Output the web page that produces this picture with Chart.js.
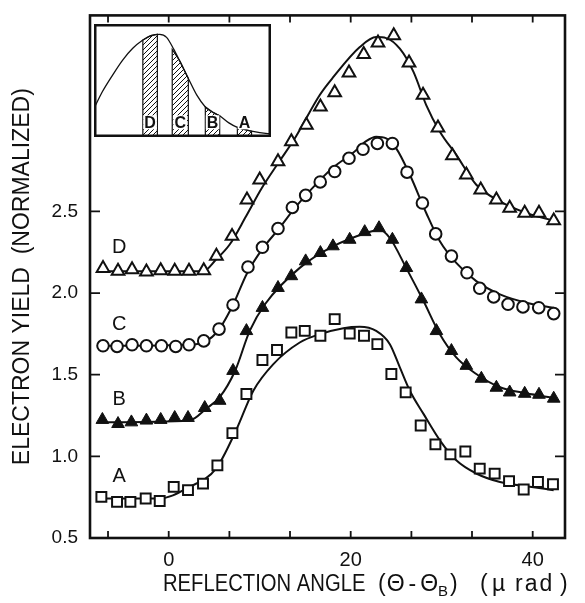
<!DOCTYPE html>
<html>
<head>
<meta charset="utf-8">
<script src="https://cdn.jsdelivr.net/npm/chart.js@4.4.1/dist/chart.umd.min.js"></script>
<style>
  html, body { margin: 0; padding: 0; background: #fff; }
  #wrap { position: relative; width: 585px; height: 603px; }
  #mainChart { position: absolute; left: 0; top: 0; }
  #insetChart { position: absolute; left: 94px; top: 24px; }
</style>
</head>
<body>
<div id="wrap">
  <canvas id="mainChart" width="585" height="603"></canvas>
  <canvas id="insetChart" width="177" height="113"></canvas>
</div>
<script>
// measured points, x = reflection angle (µrad), y = normalized electron yield
const xA = [-7.40, -5.68, -4.21, -2.53, -0.99, 0.55, 2.12, 3.77, 5.35, 7.00, 8.54, 10.30, 11.90, 13.48, 14.95, 16.67,
            18.24, 19.89, 21.46, 22.93, 24.47, 26.04, 27.69, 29.31, 30.96, 32.60, 34.18, 35.82, 37.40, 39.01, 40.58, 42.23];
const yA = [0.752, 0.721, 0.721, 0.742, 0.727, 0.813, 0.793, 0.833, 0.945, 1.142, 1.382, 1.590, 1.651, 1.758, 1.768, 1.738,
            1.840, 1.752, 1.738, 1.687, 1.504, 1.392, 1.189, 1.073, 1.012, 1.030, 0.925, 0.894, 0.848, 0.797, 0.843, 0.829];

const xB = [-7.29, -5.57, -4.10, -2.45, -0.88, 0.66, 2.12, 3.96, 5.60, 7.07, 8.54, 10.30, 12.01, 13.48, 15.05, 16.67,
            18.05, 19.89, 21.54, 23.11, 24.58, 26.12, 27.77, 29.42, 31.07, 32.71, 34.36, 36.01, 37.47, 39.12, 40.69, 42.31];
const yB = [1.224, 1.199, 1.209, 1.220, 1.224, 1.236, 1.236, 1.297, 1.341, 1.524, 1.768, 1.910, 2.032, 2.104, 2.195, 2.246,
            2.287, 2.327, 2.374, 2.398, 2.327, 2.154, 1.962, 1.768, 1.646, 1.555, 1.476, 1.421, 1.392, 1.384, 1.378, 1.354];

const xC = [-7.22, -5.68, -4.03, -2.45, -0.80, 0.77, 2.23, 3.85, 5.53, 7.07, 8.71, 10.30, 12.01, 13.59, 15.05, 16.65,
            18.24, 19.81, 21.35, 22.93, 24.58, 26.19, 27.88, 29.34, 31.07, 32.78, 34.18, 35.71, 37.29, 38.93, 40.66, 42.31];
const yC = [1.677, 1.673, 1.683, 1.677, 1.677, 1.673, 1.683, 1.707, 1.779, 1.927, 2.159, 2.280, 2.395, 2.524, 2.598, 2.680,
            2.744, 2.825, 2.880, 2.916, 2.916, 2.740, 2.551, 2.362, 2.226, 2.124, 2.029, 1.976, 1.931, 1.915, 1.910, 1.874];

const xD = [-7.22, -5.57, -4.03, -2.45, -0.88, 0.66, 2.23, 3.85, 5.24, 6.96, 8.60, 10.00, 12.01, 13.48, 15.13, 16.67,
            18.24, 19.81, 21.43, 23.00, 24.73, 26.41, 27.95, 29.59, 31.18, 32.71, 34.29, 36.01, 37.47, 39.12, 40.69, 42.31];
const yD = [2.151, 2.134, 2.144, 2.130, 2.138, 2.134, 2.134, 2.138, 2.226, 2.348, 2.571, 2.693, 2.805, 2.927, 3.029, 3.140,
            3.227, 3.348, 3.462, 3.532, 3.577, 3.410, 3.212, 3.012, 2.841, 2.724, 2.632, 2.571, 2.520, 2.490, 2.490, 2.443];

// fitted curves
const fitAx = [-7.4, -1.0, 2.3, 5.2, 7.4, 9.3, 11.5, 14.4, 16.6, 19.2, 21.0, 22.8, 24.3, 25.4, 26.5, 28.0, 29.8, 31.6, 33.8, 36.4, 39.3, 42.3];
const fitAy = [0.742, 0.742, 0.813, 0.925, 1.159, 1.402, 1.565, 1.697, 1.748, 1.785, 1.793, 1.768, 1.687, 1.545, 1.402, 1.260, 1.098, 0.976, 0.895, 0.843, 0.817, 0.793];
const fitBx = [-7.4, 2.3, 4.1, 5.6, 7.3, 8.9, 10.6, 14.4, 18.1, 21.7, 23.2, 24.3, 26.1, 28.0, 29.8, 31.6, 33.8, 36.4, 39.3, 42.3];
const fitBy = [1.209, 1.220, 1.291, 1.362, 1.524, 1.768, 1.933, 2.154, 2.287, 2.368, 2.388, 2.337, 2.154, 1.951, 1.748, 1.606, 1.504, 1.423, 1.386, 1.358];
const fitCx = [-7.6, 3.0, 5.3, 7.0, 8.6, 10.3, 12.2, 14.0, 16.6, 18.1, 20.3, 21.7, 22.8, 23.9, 25.0, 26.5, 28.3, 29.8, 31.6, 33.8, 36.4, 39.3, 42.3];
const fitCy = [1.677, 1.687, 1.760, 1.920, 2.120, 2.270, 2.400, 2.530, 2.690, 2.770, 2.860, 2.930, 2.957, 2.947, 2.886, 2.724, 2.490, 2.317, 2.185, 2.073, 1.992, 1.941, 1.910];
const fitDx = [-7.6, 3.8, 5.2, 6.7, 8.5, 10.2, 12.0, 13.9, 16.6, 18.1, 21.0, 22.8, 23.9, 25.4, 26.9, 28.3, 29.8, 31.6, 33.8, 36.4, 39.3, 42.3];
const fitDy = [2.134, 2.134, 2.205, 2.297, 2.470, 2.640, 2.793, 2.951, 3.213, 3.323, 3.506, 3.567, 3.561, 3.496, 3.354, 3.151, 2.988, 2.846, 2.663, 2.561, 2.490, 2.443];

const xTickVals = [-6.67, 0, 6.67, 13.33, 20, 26.67, 33.33, 40];
const xLabelVals = [0, 20, 40];
const yTickVals = [0.5, 1.0, 1.5, 2.0, 2.5];

// inset: angular distribution with the four hatched slices
const insetX = [0, 4.7, 10.5, 16.2, 21.9, 27.6, 32.4, 37.1, 41.0, 45.1, 48.6, 53.3, 58.1, 62.9, 67.6, 71.0, 76.2, 81.0, 89.0, 98.1, 100];
const insetY = [25.2, 40.0, 54.8, 68.1, 78.5, 85.8, 90.0, 90.9, 88.2, 77.5, 66.6, 51.8, 37.0, 26.6, 21.3, 18.8, 12.5, 8.5, 5.2, 3.0, 2.9];
const sliceNames = ['D', 'C', 'B', 'A'];
const sliceX = [[27.6, 31.7, 35.8], [44.2, 48.7, 53.3], [62.9, 67.0, 71.0], [81.0, 85.0, 89.0]];
const sliceTop = [[85.8, 89.3, 90.9], [77.5, 66.8, 51.8], [26.6, 22.2, 18.8], [8.5, 6.8, 5.2]];

const INK = '#111';
const FONT = '"Liberation Sans", Arial, sans-serif';
const pts = (xs, ys) => xs.map((x, i) => ({ x: x, y: ys[i] }));

const whiteBg = {
    id: 'whiteBg',
    beforeDraw(chart) {
        const ctx = chart.ctx;
        ctx.save();
        ctx.fillStyle = '#fff';
        ctx.fillRect(0, 0, chart.width, chart.height);
        ctx.restore();
    }
};

// boxed frame with inward ticks on all four sides
const frameTicks = {
    id: 'frameTicks',
    afterDatasetsDraw(chart) {
        const { ctx, chartArea: a, scales: { x, y } } = chart;
        ctx.save();
        ctx.strokeStyle = INK;
        ctx.lineWidth = 1.8;
        ctx.beginPath();
        xTickVals.forEach(v => {
            const px = x.getPixelForValue(v);
            ctx.moveTo(px, a.bottom); ctx.lineTo(px, a.bottom - 7);
            ctx.moveTo(px, a.top); ctx.lineTo(px, a.top + 7);
        });
        yTickVals.forEach(v => {
            const py = y.getPixelForValue(v);
            ctx.moveTo(a.left, py); ctx.lineTo(a.left + 10, py);
            ctx.moveTo(a.right, py); ctx.lineTo(a.right - 10, py);
        });
        ctx.stroke();
        ctx.lineWidth = 2.6;
        ctx.strokeRect(a.left, a.top, a.right - a.left, a.bottom - a.top);

        // curve letters
        ctx.fillStyle = INK;
        ctx.font = '20px ' + FONT;
        ctx.textAlign = 'center';
        ctx.textBaseline = 'middle';
        const letterY = { D: 2.28, C: 1.81, B: 1.35, A: 0.875 };
        Object.keys(letterY).forEach(k => {
            ctx.fillText(k, x.getPixelForValue(-5.45), y.getPixelForValue(letterY[k]));
        });
        ctx.restore();
    },
    afterDraw(chart) {
        // x title drawn by hand for the subscript B
        const ctx = chart.ctx;
        const base = 591;
        ctx.save();
        ctx.fillStyle = INK;
        ctx.textBaseline = 'alphabetic';
        ctx.textAlign = 'left';
        ctx.font = '23px ' + FONT;
        ctx.save();
        ctx.translate(163, base);
        ctx.scale(0.88, 1);
        ctx.fillText('REFLECTION ANGLE', 0, 0);
        ctx.restore();
        let cx = 378;
        const parts = ['(', 'Θ', '-', 'Θ'];
        const gaps = [1, 4, 4, 0];
        parts.forEach((p, i) => {
            ctx.fillText(p, cx, base);
            cx += ctx.measureText(p).width + gaps[i];
        });
        ctx.font = '15px ' + FONT;
        ctx.fillText('B', cx, base + 5);
        cx += ctx.measureText('B').width + 2;
        ctx.font = '23px ' + FONT;
        ctx.fillText(')', cx, base);
        ctx.fillText('(', 480, base);
        ctx.fillText('µ', 492, base);
        ctx.letterSpacing = '2px';
        ctx.fillText('rad', 515, base);
        ctx.letterSpacing = '0px';
        ctx.fillText(')', 560, base);
        ctx.restore();
    }
};

new Chart(document.getElementById('mainChart'), {
    type: 'scatter',
    data: {
        datasets: [
            { data: pts(fitAx, fitAy), showLine: true, borderColor: INK, borderWidth: 2, pointRadius: 0, cubicInterpolationMode: 'monotone', order: 2 },
            { data: pts(fitBx, fitBy), showLine: true, borderColor: INK, borderWidth: 2, pointRadius: 0, cubicInterpolationMode: 'monotone', order: 2 },
            { data: pts(fitCx, fitCy), showLine: true, borderColor: INK, borderWidth: 2, pointRadius: 0, cubicInterpolationMode: 'monotone', order: 2 },
            { data: pts(fitDx, fitDy), showLine: true, borderColor: INK, borderWidth: 2, pointRadius: 0, cubicInterpolationMode: 'monotone', order: 2 },
            { label: 'A', data: pts(xA, yA), pointStyle: 'rect', pointRadius: 7, borderWidth: 2, borderColor: INK, backgroundColor: '#fff', order: 1 },
            { label: 'B', data: pts(xB, yB), pointStyle: 'triangle', pointRadius: 7.3, borderWidth: 1, borderColor: INK, backgroundColor: INK, order: 1 },
            { label: 'C', data: pts(xC, yC), pointStyle: 'circle', pointRadius: 5.8, borderWidth: 2, borderColor: INK, backgroundColor: '#fff', order: 1 },
            { label: 'D', data: pts(xD, yD), pointStyle: 'triangle', pointRadius: 7.3, borderWidth: 2, borderColor: INK, backgroundColor: '#fff', order: 1 }
        ]
    },
    options: {
        responsive: false,
        devicePixelRatio: 1,
        animation: false,
        layout: { padding: { top: 13, right: 20, left: 0, bottom: 0 } },
        plugins: { legend: { display: false }, tooltip: { enabled: false } },
        scales: {
            x: {
                type: 'linear',
                min: -8.65,
                max: 43.55,
                grid: { display: false },
                border: { display: false },
                afterBuildTicks: s => { s.ticks = xTickVals.map(v => ({ value: v })); },
                afterFit: s => { s.height = 65; },
                ticks: {
                    autoSkip: false,
                    maxRotation: 0,
                    padding: 2,
                    color: INK,
                    font: { family: FONT, size: 20 },
                    callback: v => xLabelVals.includes(v) ? String(v) : ''
                }
            },
            y: {
                min: 0.5,
                max: 3.7,
                grid: { display: false },
                border: { display: false },
                afterBuildTicks: s => { s.ticks = yTickVals.map(v => ({ value: v })); },
                afterFit: s => { s.width = 90; },
                ticks: {
                    autoSkip: false,
                    padding: 4,
                    color: INK,
                    font: { family: FONT, size: 19 },
                    callback: v => v.toFixed(1)
                },
                title: {
                    display: true,
                    text: 'ELECTRON YIELD  (NORMALIZED)',
                    color: INK,
                    font: { family: FONT, size: 23 },
                    padding: { top: 9, bottom: 0 }
                }
            }
        }
    },
    plugins: [whiteBg, frameTicks]
});

// ---- inset ----
function hatchPattern() {
    const c = document.createElement('canvas');
    c.width = 5; c.height = 5;
    const g = c.getContext('2d');
    g.strokeStyle = INK;
    g.lineWidth = 1;
    g.beginPath();
    g.moveTo(0, 5); g.lineTo(5, 0);
    g.moveTo(-1, 1); g.lineTo(1, -1);
    g.moveTo(4, 6); g.lineTo(6, 4);
    g.stroke();
    return g.createPattern(c, 'repeat');
}

const hatch = hatchPattern();
const sliceSets = sliceX.map((xs, i) => ({
    data: [{ x: xs[0], y: 0 }].concat(pts(xs, sliceTop[i]), [{ x: xs[2], y: 0 }]),
    showLine: true,
    fill: 'origin',
    backgroundColor: hatch,
    borderColor: INK,
    borderWidth: 1.2,
    pointRadius: 0
}));

const insetDecor = {
    id: 'insetDecor',
    afterDatasetsDraw(chart) {
        const { ctx, scales: { x, y } } = chart;
        ctx.save();
        ctx.font = 'bold 16px ' + FONT;
        ctx.textAlign = 'center';
        ctx.textBaseline = 'middle';
        sliceNames.forEach((n, i) => {
            const px = x.getPixelForValue(sliceX[i][1]);
            const py = y.getPixelForValue(13);
            const w = ctx.measureText(n).width;
            ctx.fillStyle = '#fff';
            ctx.fillRect(px - w / 2 - 1, py - 7, w + 2, 14);
            ctx.fillStyle = INK;
            ctx.fillText(n, px, py + 1);
        });
        ctx.strokeStyle = INK;
        ctx.lineWidth = 2.5;
        ctx.strokeRect(1.25, 1.25, chart.width - 2.5, chart.height - 2.5);
        ctx.restore();
    }
};

new Chart(document.getElementById('insetChart'), {
    type: 'scatter',
    data: {
        datasets: [
            { data: pts(insetX, insetY), showLine: true, borderColor: INK, borderWidth: 1.3, pointRadius: 0, cubicInterpolationMode: 'monotone' }
        ].concat(sliceSets)
    },
    options: {
        responsive: false,
        devicePixelRatio: 1,
        animation: false,
        layout: { padding: 0 },
        plugins: { legend: { display: false }, tooltip: { enabled: false } },
        scales: {
            x: { type: 'linear', min: 0, max: 100, display: false },
            y: { min: 0, max: 100, display: false }
        }
    },
    plugins: [whiteBg, insetDecor]
});
</script>
</body>
</html>
